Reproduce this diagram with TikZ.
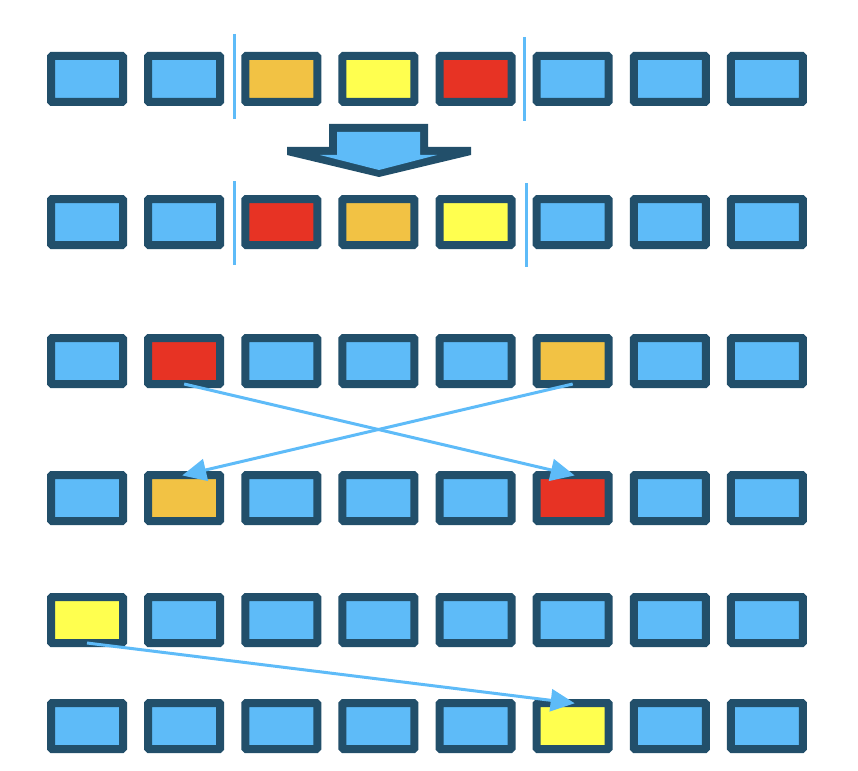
\documentclass[tikz,border=0pt]{standalone}
\usetikzlibrary{arrows.meta}
\definecolor{dark}{HTML}{224F6A}
\definecolor{lblue}{HTML}{5EBBF8}
\definecolor{orng}{HTML}{F2C244}
\definecolor{yell}{HTML}{FFFF4F}
\definecolor{redc}{HTML}{E73324}
\begin{document}
\begin{tikzpicture}[x=1pt,y=-1pt,
  box/.style={draw=dark, line width=8pt, fill=lblue, rounded corners=1pt,
    minimum width=72pt, minimum height=46pt, inner sep=0pt, outer sep=0pt},
  sep/.style={draw=lblue, line width=3pt},
  bigarrow/.style={fill=dark},
  bigarrowin/.style={fill=lblue},
  arr/.style={draw=lblue, line width=3pt, -{Triangle[length=24pt,width=22pt]}, shorten >=-2pt}]
\useasboundingbox (0,0) rectangle (858,770);
% boxes: row / centre y / colours of the eight columns
\foreach \r/\y/\cols in {
  1/79/{lblue,lblue,orng,yell,redc,lblue,lblue,lblue},
  2/222/{lblue,lblue,redc,orng,yell,lblue,lblue,lblue},
  3/361/{lblue,redc,lblue,lblue,lblue,orng,lblue,lblue},
  4/498/{lblue,orng,lblue,lblue,lblue,redc,lblue,lblue},
  5/620/{yell,lblue,lblue,lblue,lblue,lblue,lblue,lblue},
  6/726/{lblue,lblue,lblue,lblue,lblue,yell,lblue,lblue}}{
  \foreach \col [count=\i from 0] in \cols {
    \pgfmathsetmacro{\x}{87+97.14*\i}
    \node[box, fill=\col] (b\r-\i) at (\x,\y) {};
  }
}
% separators
\draw[sep] (234,34) -- (234,119);
\draw[sep] (524,37) -- (524,121);
\draw[sep] (234,181) -- (234,265);
\draw[sep] (526,183) -- (526,267);
% big block arrow
\fill[bigarrow] (329,124) -- (428,124) -- (428,147) -- (471,147) -- (471,155) -- (379,177) -- (287,155) -- (287,147) -- (329,147) -- cycle;
\fill[bigarrowin] (337,132) -- (420,132) -- (420,155) -- (437,155) -- (379,170) -- (320,155) -- (337,155) -- cycle;
% connectors
\draw[arr] (b3-1.south) -- (b4-5.north);
\draw[arr] (b3-5.south) -- (b4-1.north);
\draw[arr] (b5-0.south) -- (b6-5.north);
\end{tikzpicture}
\end{document}
